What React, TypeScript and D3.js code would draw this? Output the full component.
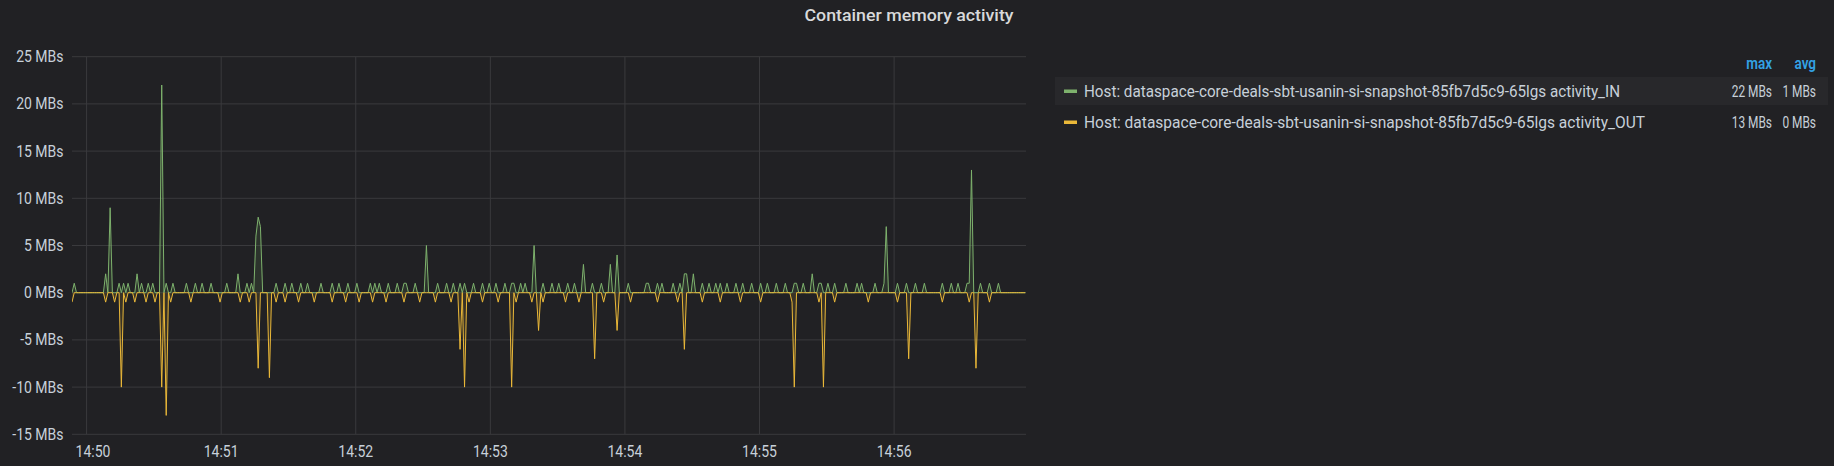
import React, { useEffect } from "react";
import * as d3 from "d3";

// ---- data (1-second samples starting 14:49:53.5) ----
const START = new Date(2020, 0, 1, 14, 49, 53, 500);
const END = new Date(2020, 0, 1, 14, 56, 58, 800);
const STEP_MS = 1000;

// activity_IN (MBs)
const activityIn: number[] = [
  0,1,0,0,0,0,0,0,0,0,0,0,0,0,0,2,0,9,0,0,
  0,1,0,1,0,1,0,0,0,2,0,1,0,0,1,0,1,0,0,0,
  22,0,1,0,0,1,0,0,0,0,0,1,0,0,0,1,0,0,1,0,
  0,0,1,0,0,0,0,0,0,1,0,0,0,0,2,0,0,0,1,0,
  1,0,6,8,7,0,0,0,0,0,0,1,0,0,0,1,0,0,1,0,
  0,0,1,0,0,1,0,0,0,0,0,1,0,0,0,0,1,0,0,1,
  0,0,0,1,0,0,0,1,0,0,0,0,0,1,0,1,0,1,0,0,
  0,1,0,0,0,1,0,0,1,1,0,0,0,1,0,0,0,0,5,0,
  0,0,0,1,0,0,0,1,0,0,1,0,0,1,0,1,0,0,0,1,
  0,0,0,1,0,0,1,0,0,1,0,0,0,1,0,0,1,1,0,0,
  1,0,1,0,0,0,5,0,0,0,1,0,0,0,1,0,0,1,0,0,
  0,1,0,0,1,0,0,0,3,0,0,0,1,0,0,0,1,0,0,0,
  3,0,0,4,0,0,0,0,1,0,0,0,0,0,0,0,1,1,0,0,
  0,1,0,1,0,0,0,0,1,0,0,1,0,2,2,0,0,2,0,0,
  0,1,0,0,1,0,0,1,0,1,0,0,1,0,0,0,1,0,0,1,
  0,0,0,1,0,0,0,1,0,0,1,0,0,0,1,0,0,0,1,0,
  0,0,1,1,0,0,1,0,0,0,2,0,0,1,1,0,0,1,0,0,
  1,0,0,0,0,1,0,0,0,0,1,0,1,0,0,0,0,0,1,0,
  0,0,1,7,0,0,0,0,1,0,0,0,1,0,0,0,1,0,0,0,
  1,0,0,0,0,0,0,0,1,0,0,0,1,0,0,1,0,0,0,1,
  1,13,0,0,0,1,0,0,0,1,0,0,0,1,0,0,0,0,0,0,
  0,0,0,0,0,0,
];

// activity_OUT (MBs, drawn on the negative Y side)
const activityOut: number[] = [
  1,0,0,0,0,0,0,0,0,0,0,0,0,0,0,1,0,0,0,1,
  0,0,10,0,1,0,0,0,1,0,0,0,0,1,0,0,0,1,0,0,
  10,0,13,0,1,0,0,0,0,0,0,0,0,1,0,0,0,0,0,0,
  0,0,0,0,0,0,1,0,0,0,0,0,0,0,0,1,0,0,0,1,
  0,0,0,8,0,0,0,0,9,0,0,1,0,0,0,1,0,0,0,0,
  0,1,0,0,0,0,0,0,1,0,0,0,0,0,0,0,1,0,0,0,
  0,0,1,0,0,0,0,0,1,0,0,0,0,0,1,0,0,0,0,0,
  1,0,0,0,0,0,0,0,1,0,0,0,0,0,0,1,0,0,0,0,
  0,0,1,0,0,0,0,0,0,1,0,0,0,6,0,10,0,1,0,0,
  0,0,0,1,0,0,0,0,0,0,1,0,0,0,0,0,10,0,1,0,
  0,0,0,0,0,1,0,0,4,0,1,0,0,0,0,0,0,0,0,0,
  1,0,0,0,0,0,1,0,0,0,0,0,0,7,0,0,0,1,0,0,
  0,0,0,4,0,0,0,0,0,1,0,0,0,0,0,0,0,0,0,0,
  0,1,0,0,0,0,0,0,0,0,1,0,0,6,0,0,0,0,0,0,
  0,1,0,0,0,0,0,0,0,1,0,0,0,0,0,0,0,0,1,0,
  0,0,0,0,0,0,0,1,0,0,0,0,0,0,0,0,0,0,0,0,
  0,1,10,0,0,0,0,0,0,0,0,0,0,1,0,10,0,0,0,0,
  1,0,0,0,0,0,0,0,0,0,0,0,0,0,0,1,0,0,0,0,
  0,0,0,0,0,0,0,0,1,0,0,0,0,7,0,0,0,0,0,0,
  0,0,0,0,0,0,0,0,1,0,0,0,0,0,0,0,0,0,0,0,
  1,0,0,8,0,0,0,0,0,1,0,0,0,0,0,0,0,0,0,0,
  0,0,0,0,0,0,
];

const seriesNames: string[] = [
  "Host: dataspace-core-deals-sbt-usanin-si-snapshot-85fb7d5c9-65lgs activity_IN",
  "Host: dataspace-core-deals-sbt-usanin-si-snapshot-85fb7d5c9-65lgs activity_OUT",
];
const seriesColors: string[] = ["#7EB26D", "#EAB839"];
const legendAvg: string[] = ["1 MBs", "0 MBs"];
const yTicks: number[] = [-15, -10, -5, 0, 5, 10, 15, 20, 25];
const title = "Container memory activity";

// ---- layout ----
const W = 1834;
const H = 466;
const PL = 72;
const PR = 1026;
const PT = 56.7;
const PB = 434.3;
const BG = "#212124";
const GRID = "#3a3a3d";
const TXT = "#c7d0d9";
const SY = 1.15;

export default function App() {
  useEffect(() => {
    document.body.style.margin = "0";
    document.body.style.background = BG;
  }, []);

  const x = d3.scaleTime().domain([START, END]).range([PL, PR]);
  const y = d3.scaleLinear().domain([-15, 25]).range([PB, PT]);

  const toPts = (vals: number[], sign: number) =>
    vals.map((v, i) => ({ t: new Date(START.getTime() + i * STEP_MS), v: sign * v }));
  const inPts = toPts(activityIn, 1);
  const outPts = toPts(activityOut, -1);

  const line = d3
    .line<{ t: Date; v: number }>()
    .x((d) => x(d.t))
    .y((d) => y(d.v));
  const area = d3
    .area<{ t: Date; v: number }>()
    .x((d) => x(d.t))
    .y0(() => y(0))
    .y1((d) => y(d.v));

  const xTicks = x.ticks(d3.timeMinute.every(1)!);
  const fmt = d3.timeFormat("%H:%M");
  const maxes = [d3.max(activityIn)!, d3.max(activityOut)!];

  const stretched = (
    key: string,
    tx: number,
    ty: number,
    content: string,
    opts: { anchor?: string; sx?: number; size?: number; weight?: number; fill?: string; len?: number }
  ) => (
    <text
      key={key}
      transform={`translate(${tx},${ty}) scale(${opts.sx ?? 1},${SY})`}
      textAnchor={opts.anchor ?? "start"}
      fontSize={opts.size ?? 14}
      fontWeight={opts.weight ?? 400}
      fill={opts.fill ?? TXT}
      textLength={opts.len}
      lengthAdjust={opts.len ? "spacingAndGlyphs" : undefined}
    >
      {content}
    </text>
  );

  return (
    <svg
      width={W}
      height={H}
      style={{ position: "absolute", left: 0, top: 0, display: "block", fontFamily: "Roboto, sans-serif" }}
    >
      <rect x={0} y={0} width={W} height={H} fill={BG} />
      <text x={909} y={21} textAnchor="middle" fontSize={16} fontWeight={500} fill="#d8d9da" textLength={209} lengthAdjust="spacingAndGlyphs">
        {title}
      </text>

      {/* grid */}
      {yTicks.map((v) => (
        <line key={"gy" + v} x1={PL} x2={PR} y1={y(v)} y2={y(v)} stroke={GRID} strokeWidth={1} />
      ))}
      {xTicks.map((t) => (
        <line key={"gx" + t.getTime()} x1={x(t)} x2={x(t)} y1={PT} y2={PB} stroke={GRID} strokeWidth={1} />
      ))}

      {/* y labels */}
      {yTicks.map((v) => stretched("yl" + v, 63.5, y(v) + 5.5, `${v} MBs`, { anchor: "end" }))}
      {/* x labels */}
      {xTicks.map((t) => {
        const px = Math.max(x(t), PL + 21);
        return stretched("xl" + t.getTime(), px, 456.5, fmt(t), { anchor: "middle" });
      })}

      {/* series */}
      <g clipPath="url(#clip)">
        <clipPath id="clip">
          <rect x={PL} y={PT - 5} width={PR - PL} height={PB - PT + 10} />
        </clipPath>
        <path d={area(inPts)!} fill={seriesColors[0]} fillOpacity={0.12} />
        <path d={area(outPts)!} fill={seriesColors[1]} fillOpacity={0.12} />
        <path d={line(inPts)!} fill="none" stroke={seriesColors[0]} strokeWidth={1} />
        <path d={line(outPts)!} fill="none" stroke={seriesColors[1]} strokeWidth={1} />
      </g>

      {/* legend */}
      <rect x={1055} y={77} width={W - 1055 - 6} height={28} fill="#28282b" />
      {stretched("hmax", 1772, 69, "max", { anchor: "end", weight: 600, size: 15, sx: 0.9, fill: "#33a2e5" })}
      {stretched("havg", 1816, 69, "avg", { anchor: "end", weight: 600, size: 15, sx: 0.9, fill: "#33a2e5" })}
      {seriesNames.map((name, i) => {
        const cy = 91 + i * 31;
        return (
          <g key={"lg" + i}>
            <rect x={1064} y={cy - 1.5} width={13} height={3.5} fill={seriesColors[i]} />
            {stretched("ln" + i, 1084, cy + 5.8, name, { len: i === 0 ? 536 : 561 })}
            {stretched("lm" + i, 1772, cy + 5.8, `${maxes[i]} MBs`, { anchor: "end", sx: 0.85 })}
            {stretched("la" + i, 1816, cy + 5.8, legendAvg[i], { anchor: "end", sx: 0.85 })}
          </g>
        );
      })}
    </svg>
  );
}
